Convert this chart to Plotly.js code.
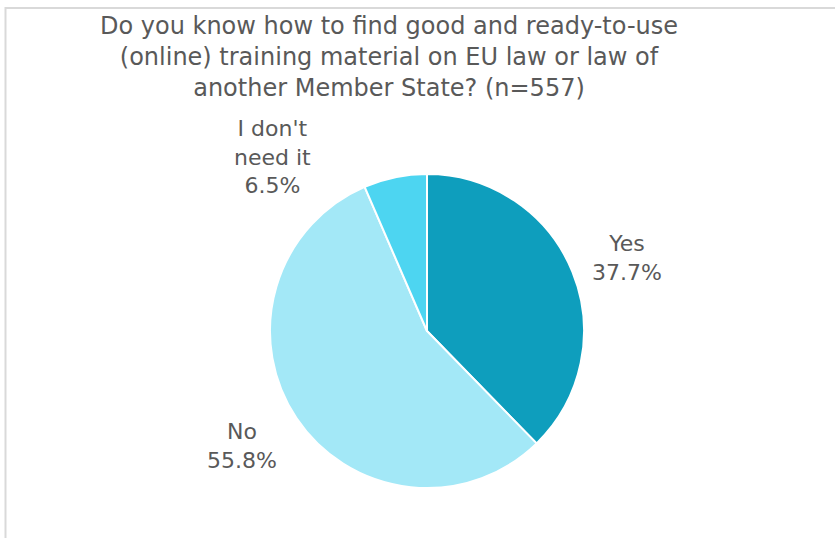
<!DOCTYPE html>
<html>
<head>
<meta charset="utf-8">
<script src="https://cdn.plot.ly/plotly-3.0.1.min.js"></script>
<style>
  body { margin: 0; background: #fff; }
  #chart { width: 835px; height: 538px; }
</style>
</head>
<body>
<div id="chart"></div>
<script>
const labels = ["Yes", "No", "I don't need it"];
const shares = [37.7, 55.8, 6.5];
const colors = ["#0E9EBD", "#A3E8F7", "#4DD5F1"];
// display text for the outside labels (line breaks as in the original)
const labelText = ["Yes", "No", "I don't<br>need it"];

const W = 835, H = 538;
const px = (x) => x / W;
const py = (y) => 1 - y / H;

const trace = {
  type: "pie",
  labels: labels,
  values: shares,
  sort: false,
  direction: "clockwise",
  rotation: 0,
  marker: { colors: colors, line: { color: "#ffffff", width: 2 } },
  textinfo: "none",
  hoverinfo: "label+percent",
  domain: { x: [px(270), px(584)], y: [py(488), py(174)] },
  showlegend: false,
};

// label positions (centres, in pixels)
const labelPos = [[627, 258], [242, 446], [272, 157]];

const annotations = labels.map((_, i) => ({
  xref: "paper",
  yref: "paper",
  x: px(labelPos[i][0]),
  y: py(labelPos[i][1]),
  xanchor: "center",
  yanchor: "middle",
  showarrow: false,
  align: "center",
  text: `${labelText[i]}<br>${shares[i].toFixed(1)}%`,
  font: { family: "DejaVu Sans", size: 22, color: "#595959" },
}));

const layout = {
  width: W,
  height: H,
  margin: { l: 0, r: 0, t: 0, b: 0 },
  paper_bgcolor: "#ffffff",
  title: {
    text: "Do you know how to find good and ready-to-use<br>(online) training material on EU law or law of<br>another Member State? (n=557)",
    font: { family: "DejaVu Sans", size: 24, color: "#595959" },
    x: px(389),
    xanchor: "center",
    y: py(34),
    yanchor: "top",
  },
  annotations: annotations,
  shapes: [
    {
      type: "path",
      xref: "paper",
      yref: "paper",
      path: `M ${px(5.5)} 0 L ${px(5.5)} ${py(8)} L 1 ${py(8)}`,
      line: { color: "#D9D9D9", width: 2 },
    },
  ],
};

Plotly.newPlot("chart", [trace], layout, { displayModeBar: false });
</script>
</body>
</html>
